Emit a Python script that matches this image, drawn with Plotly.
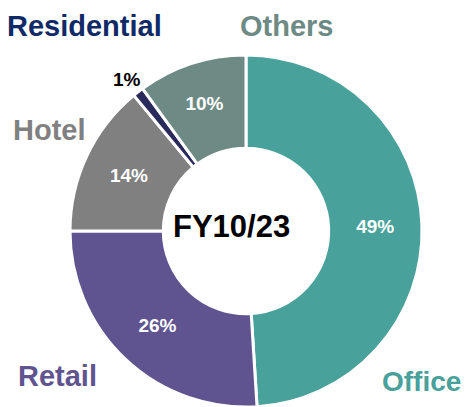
import plotly.graph_objects as go

categories = ["Office", "Retail", "Hotel", "Residential", "Others"]
values = [49, 26, 14, 1, 10]
colors = ["#48a19a", "#5f5490", "#808080", "#2b2a5c", "#6d8a85"]
label_colors = ["#48a19a", "#5f5490", "#808080", "#0f2a66", "#6d8a85"]
center_label = "FY10/23"

FONT = "Liberation Sans, Arial, sans-serif"
W, H = 469, 407
OFF = 8  # page body margin offset


def px(x, y):
    return (x - OFF) / W, 1 - (y - OFF) / H


inside_text = [f"{v}%" if v >= 5 else "" for v in values]

cx, cy, r = 246, 231, 176
dom_x = [(cx - r - OFF) / W, (cx + r - OFF) / W]
dom_y = [1 - (cy + r - OFF) / H, 1 - (cy - r - OFF) / H]

fig = go.Figure(go.Pie(
    labels=categories,
    values=values,
    marker=dict(colors=colors, line=dict(color="white", width=3)),
    hole=0.47,
    sort=False,
    direction="clockwise",
    rotation=0,
    text=inside_text,
    textinfo="text",
    textposition="inside",
    insidetextorientation="horizontal",
    textfont=dict(family=FONT, size=19, color="white", weight="bold"),
    domain=dict(x=dom_x, y=dom_y),
    showlegend=False,
    hoverinfo="label+percent",
))

ann = []


def add(text, x, y, size, color):
    ax, ay = px(x, y)
    ann.append(dict(text=text, x=ax, y=ay, xref="paper", yref="paper",
                    xanchor="center", yanchor="middle", showarrow=False,
                    font=dict(family=FONT, size=size, color=color, weight="bold")))


add(center_label, 231, 226, 31, "black")
pos = {
    "Residential": (84, 26, 29),
    "Others": (286, 26, 29),
    "Hotel": (49, 130, 29),
    "Retail": (57, 376, 29),
    "Office": (421, 381, 28),
}
for c, col in zip(categories, label_colors):
    x, y, s = pos[c]
    add(c, x, y, s, col)

res_idx = categories.index("Residential")
add(f"{values[res_idx]}%", 127, 79, 19, "black")

fig.update_layout(
    width=W, height=H,
    margin=dict(l=0, r=0, t=0, b=0),
    paper_bgcolor="white",
    plot_bgcolor="white",
    annotations=ann,
)

fig.write_html("out.html")
